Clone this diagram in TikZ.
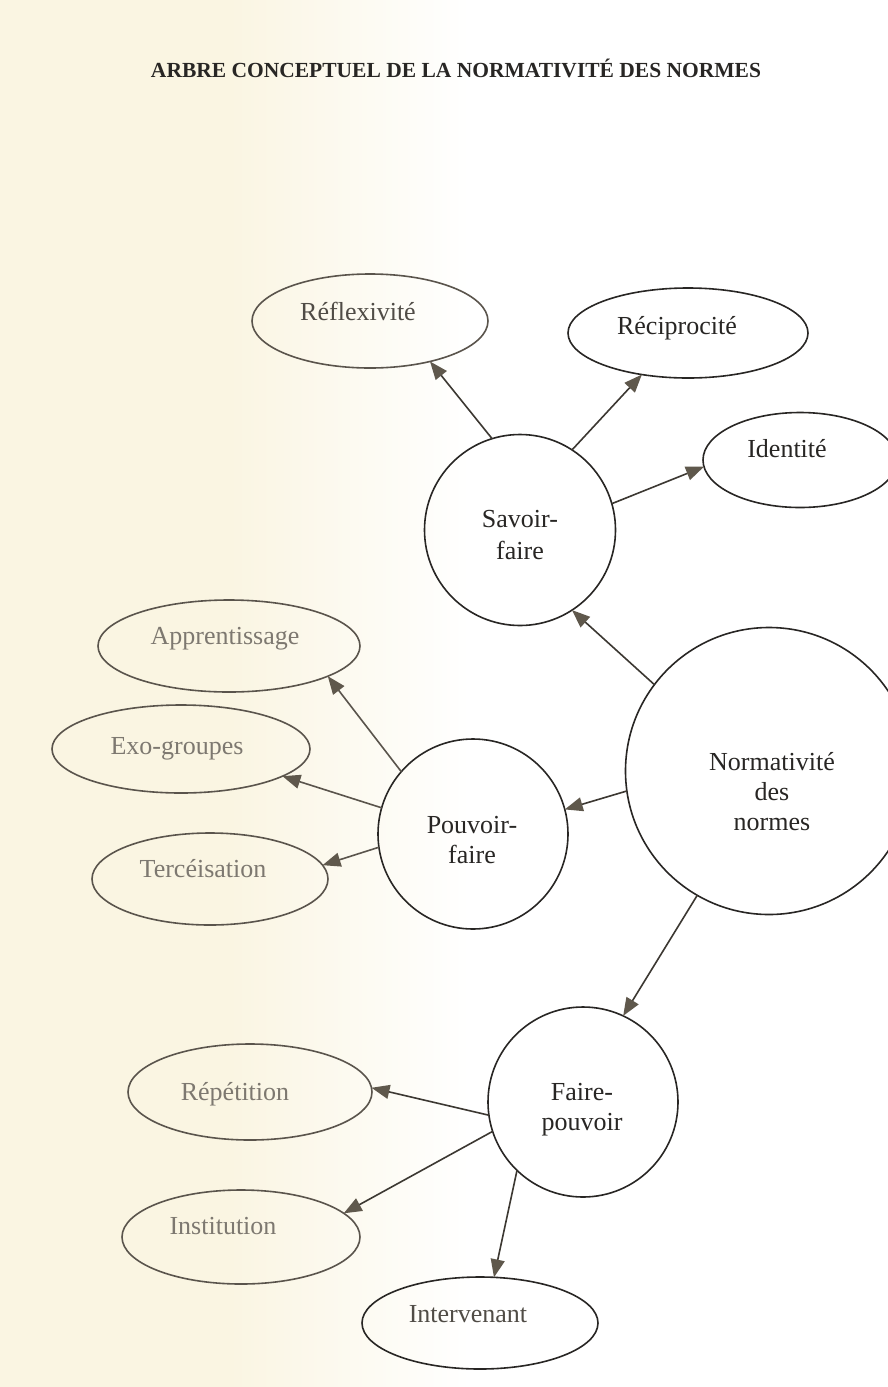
\documentclass[tikz,border=0pt]{standalone}
\usepackage{fontspec}
\setmainfont{Liberation Serif}
\usetikzlibrary{shapes.geometric,arrows.meta}
\definecolor{cream}{RGB}{250,245,226}
\definecolor{ink}{RGB}{40,38,36}
\definecolor{fadeink}{RGB}{90,84,76}
\definecolor{fadetext}{RGB}{125,120,112}
\definecolor{midtext}{RGB}{80,76,70}
\definecolor{tipcol}{RGB}{95,88,76}
\definecolor{arrline}{RGB}{60,56,50}
\begin{document}
\begin{tikzpicture}[x=1pt,y=-1pt,
  ell/.style={ellipse, draw=ink, line width=1.6pt, inner sep=0pt, outer sep=0pt},
  fell/.style={ell, draw=fadeink},
  circ/.style={circle, draw=ink, line width=1.6pt, inner sep=0pt, outer sep=0pt},
  lbl/.style={anchor=base, font=\fontsize{26}{32}\selectfont, text=ink, inner sep=0pt},
  flbl/.style={lbl, text=fadetext},
  mlbl/.style={lbl, text=midtext},
  arr/.style={draw=arrline, line width=1.6pt, -{Triangle[length=18pt,width=14pt,color=tipcol]}},
  farr/.style={arr, draw=fadeink},
]
\useasboundingbox (0,0) rectangle (888,1387);
\fill[white] (0,0) rectangle (888,1387);
\fill[cream] (0,0) rectangle (230,1387);
\shade[left color=cream, right color=white] (229.5,0) rectangle (470,1387);

% title
\node[anchor=base, inner sep=0pt, font=\fontsize{21.5}{26}\selectfont\bfseries, text=ink] (title) at (456,77) {ARBRE CONCEPTUEL DE LA NORMATIVITÉ DES NORMES};

% Savoir-faire branch
\node[fell, minimum width=236pt, minimum height=94pt] (refl) at (370,321) {};
\node[mlbl] (refl-t) at (358,320) {Réflexivité};
\node[ell, minimum width=240pt, minimum height=90pt] (recip) at (688,333) {};
\node[lbl] (recip-t) at (677,334) {Réciprocité};
\node[ell, minimum width=194pt, minimum height=95pt] (ident) at (800,460) {};
\node[lbl] (ident-t) at (787,457) {Identité};
\node[circ, minimum size=191pt] (sf) at (520,530) {};
\node[lbl] (sf-t1) at (520,527) {Savoir-};
\node[lbl] (sf-t2) at (520,559) {faire};

% central node
\node[circ, minimum size=287pt] (norm) at (769,771) {};
\node[lbl] (norm-t1) at (772,770) {Normativité};
\node[lbl] (norm-t2) at (772,800) {des};
\node[lbl] (norm-t3) at (772,830) {normes};

% Pouvoir-faire branch
\node[circ, minimum size=190pt] (pf) at (473,834) {};
\node[lbl] (pf-t1) at (472,833) {Pouvoir-};
\node[lbl] (pf-t2) at (472,863) {faire};
\node[fell, minimum width=262pt, minimum height=92pt] (appr) at (229,646) {};
\node[flbl] (appr-t) at (225,644) {Apprentissage};
\node[fell, minimum width=258pt, minimum height=88pt] (exo) at (181,749) {};
\node[flbl] (exo-t) at (177,754) {Exo-groupes};
\node[fell, minimum width=236pt, minimum height=92pt] (terc) at (210,879) {};
\node[flbl] (terc-t) at (203,877) {Tercéisation};

% Faire-pouvoir branch
\node[circ, minimum size=190pt] (fp) at (583,1102) {};
\node[lbl] (fp-t1) at (582,1100) {Faire-};
\node[lbl] (fp-t2) at (582,1130) {pouvoir};
\node[fell, minimum width=244pt, minimum height=96pt] (rep) at (250,1092) {};
\node[flbl] (rep-t) at (235,1100) {Répétition};
\node[fell, minimum width=238pt, minimum height=94pt] (inst) at (241,1237) {};
\node[flbl] (inst-t) at (223,1234) {Institution};
\node[ell, minimum width=236pt, minimum height=92pt] (interv) at (480,1323) {};
\node[mlbl] (interv-t) at (468,1322) {Intervenant};

% connectors
\draw[arr] (sf.107) -- (refl.-34.5);
\draw[arr] (sf.57) -- (recip.-138);
\draw[arr] (sf.16) -- (ident.184);
\draw[arr] (norm.143) -- (sf.-57);
\draw[arr] (norm.188) -- (pf.15);
\draw[arr] (norm.240) -- (fp.65);
\draw[farr] (pf.139) -- (appr.-17.6);
\draw[farr] (pf.164) -- (exo.-15);
\draw[farr] (pf.188) -- (terc.7);
\draw[arr] (fp.188) -- (rep.2.4);
\draw[arr] (fp.198) -- (inst.13);
\draw[arr] (fp.226) -- (interv.73);
\end{tikzpicture}
\end{document}
